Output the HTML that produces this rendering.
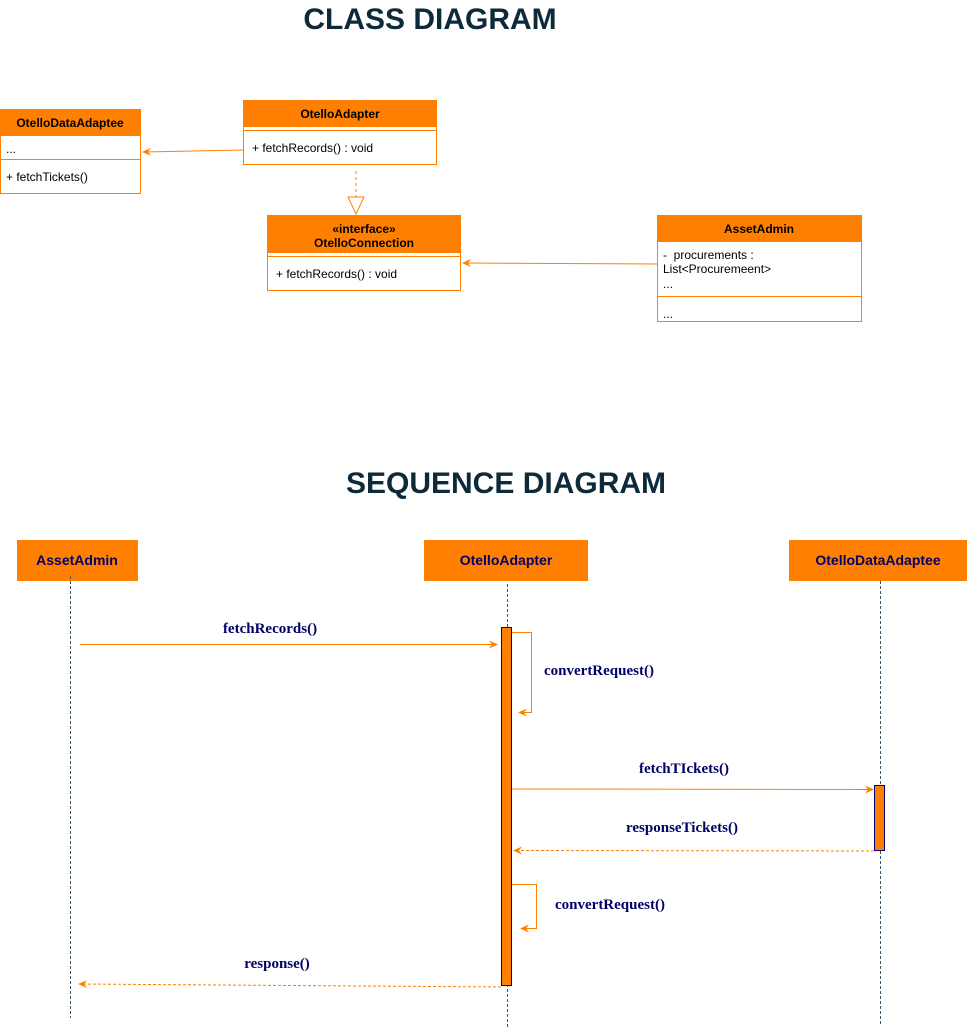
<!DOCTYPE html>
<html><head><meta charset="utf-8"><style>
body{margin:0;background:#fff;width:967px;height:1029px;overflow:hidden}
svg{display:block}
.s{font-family:"Liberation Sans",sans-serif;font-size:12px;fill:#000}
.b{font-family:"Liberation Sans",sans-serif;font-size:12px;font-weight:bold;fill:#000}
.h{font-family:"Liberation Sans",sans-serif;font-size:14px;font-weight:bold;fill:#000066}
.t{font-family:"Liberation Sans",sans-serif;font-size:30px;font-weight:bold;fill:#0d2a3a}
.m{font-family:"Liberation Serif",serif;font-size:15px;font-weight:bold;fill:#000066}
</style></head><body>
<svg width="967" height="1029" viewBox="0 0 967 1029">
<defs>
<marker id="a" markerWidth="10" markerHeight="10" refX="8" refY="5" orient="auto" markerUnits="userSpaceOnUse"><path d="M0,1 L9,5 L0,9 L3,5 Z" fill="#ff8000"/></marker>
</defs>
<text class="t" x="430" y="29" text-anchor="middle">CLASS DIAGRAM</text>
<text class="t" x="506" y="493" text-anchor="middle">SEQUENCE DIAGRAM</text>

<rect x="0.5" y="109.5" width="140" height="84" fill="#fff" stroke="#ff8000"/>
<rect x="0.5" y="109.5" width="140" height="26" fill="#ff8000" stroke="#ff8000"/>
<text class="b" x="70" y="127" text-anchor="middle">OtelloDataAdaptee</text>
<text class="s" x="6" y="153">...</text>
<line x1="0" y1="159.5" x2="140" y2="159.5" stroke="#ff8000"/>
<text class="s" x="6" y="181">+ fetchTickets()</text>

<rect x="243.5" y="100.5" width="193" height="64" fill="#fff" stroke="#ff8000"/>
<rect x="243.5" y="100.5" width="193" height="26" fill="#ff8000" stroke="#ff8000"/>
<text class="b" x="340" y="118" text-anchor="middle">OtelloAdapter</text>
<line x1="243" y1="130.5" x2="436" y2="130.5" stroke="#ff8000"/>
<text class="s" x="252" y="152">+ fetchRecords() : void</text>
<line x1="243" y1="150" x2="143" y2="152" stroke="#ff8000" marker-end="url(#a)"/>
<line x1="356" y1="171" x2="356" y2="197" stroke="#ff8000" stroke-dasharray="3,3"/>
<path d="M348,197 L364,197 L356,214 Z" fill="#fff" stroke="#ff8000"/>

<rect x="267.5" y="215.5" width="193" height="75" fill="#fff" stroke="#ff8000"/>
<rect x="267.5" y="215.5" width="193" height="37" fill="#ff8000" stroke="#ff8000"/>
<text class="b" x="364" y="233" text-anchor="middle">«interface»</text>
<text class="b" x="364" y="247" text-anchor="middle">OtelloConnection</text>
<line x1="267" y1="256.5" x2="460" y2="256.5" stroke="#ff8000"/>
<text class="s" x="276" y="278">+ fetchRecords() : void</text>

<rect x="657.5" y="215.5" width="204" height="106" fill="#fff" stroke="#ff8000"/>
<rect x="657.5" y="215.5" width="204" height="26" fill="#ff8000" stroke="#ff8000"/>
<text class="b" x="759" y="233" text-anchor="middle">AssetAdmin</text>
<text class="s" x="663" y="259">-&#160;&#160;procurements :</text>
<text class="s" x="663" y="273">List&lt;Procuremeent&gt;</text>
<text class="s" x="663" y="288">...</text>
<line x1="657" y1="296.5" x2="861" y2="296.5" stroke="#ff8000"/>
<text class="s" x="663" y="318">...</text>
<line x1="657" y1="264" x2="463" y2="263" stroke="#ff8000" marker-end="url(#a)"/>

<rect x="17" y="540" width="121" height="41" fill="#ff8000"/>
<text class="h" x="77" y="565" text-anchor="middle">AssetAdmin</text>
<rect x="424" y="540" width="164" height="41" fill="#ff8000"/>
<text class="h" x="506" y="565" text-anchor="middle">OtelloAdapter</text>
<rect x="789" y="540" width="178" height="41" fill="#ff8000"/>
<text class="h" x="878" y="565" text-anchor="middle">OtelloDataAdaptee</text>

<g stroke="#3a5566" stroke-dasharray="3,2" stroke-width="1">
<line x1="70.5" y1="576" x2="70.5" y2="1018"/>
<line x1="507.5" y1="584" x2="507.5" y2="1029"/>
<line x1="880.5" y1="581" x2="880.5" y2="1024"/>
</g>

<rect x="501.5" y="627.5" width="10" height="358" fill="#ff8000" stroke="#000080"/>
<rect x="874.5" y="785.5" width="10" height="65" fill="#ff8000" stroke="#000080"/>

<line x1="80" y1="644.5" x2="497" y2="644.5" stroke="#ff8000" marker-end="url(#a)"/>
<text class="m" x="270" y="633" text-anchor="middle">fetchRecords()</text>

<path d="M512,632.5 H531.5 V712.5 H519" fill="none" stroke="#ff8000" marker-end="url(#a)"/>
<text class="m" x="544" y="675">convertRequest()</text>

<line x1="512" y1="789" x2="873" y2="789.5" stroke="#ff8000" marker-end="url(#a)"/>
<text class="m" x="684" y="773" text-anchor="middle">fetchTIckets()</text>

<line x1="874" y1="851" x2="514" y2="850.5" stroke="#ff8000" stroke-dasharray="3,2" marker-end="url(#a)"/>
<text class="m" x="682" y="832" text-anchor="middle">responseTickets()</text>

<path d="M512,884.5 H536.5 V928.5 H521" fill="none" stroke="#ff8000" marker-end="url(#a)"/>
<text class="m" x="555" y="909">convertRequest()</text>

<line x1="501" y1="987" x2="79" y2="984" stroke="#ff8000" stroke-dasharray="3,2" marker-end="url(#a)"/>
<text class="m" x="277" y="968" text-anchor="middle">response()</text>
</svg>
</body></html>
